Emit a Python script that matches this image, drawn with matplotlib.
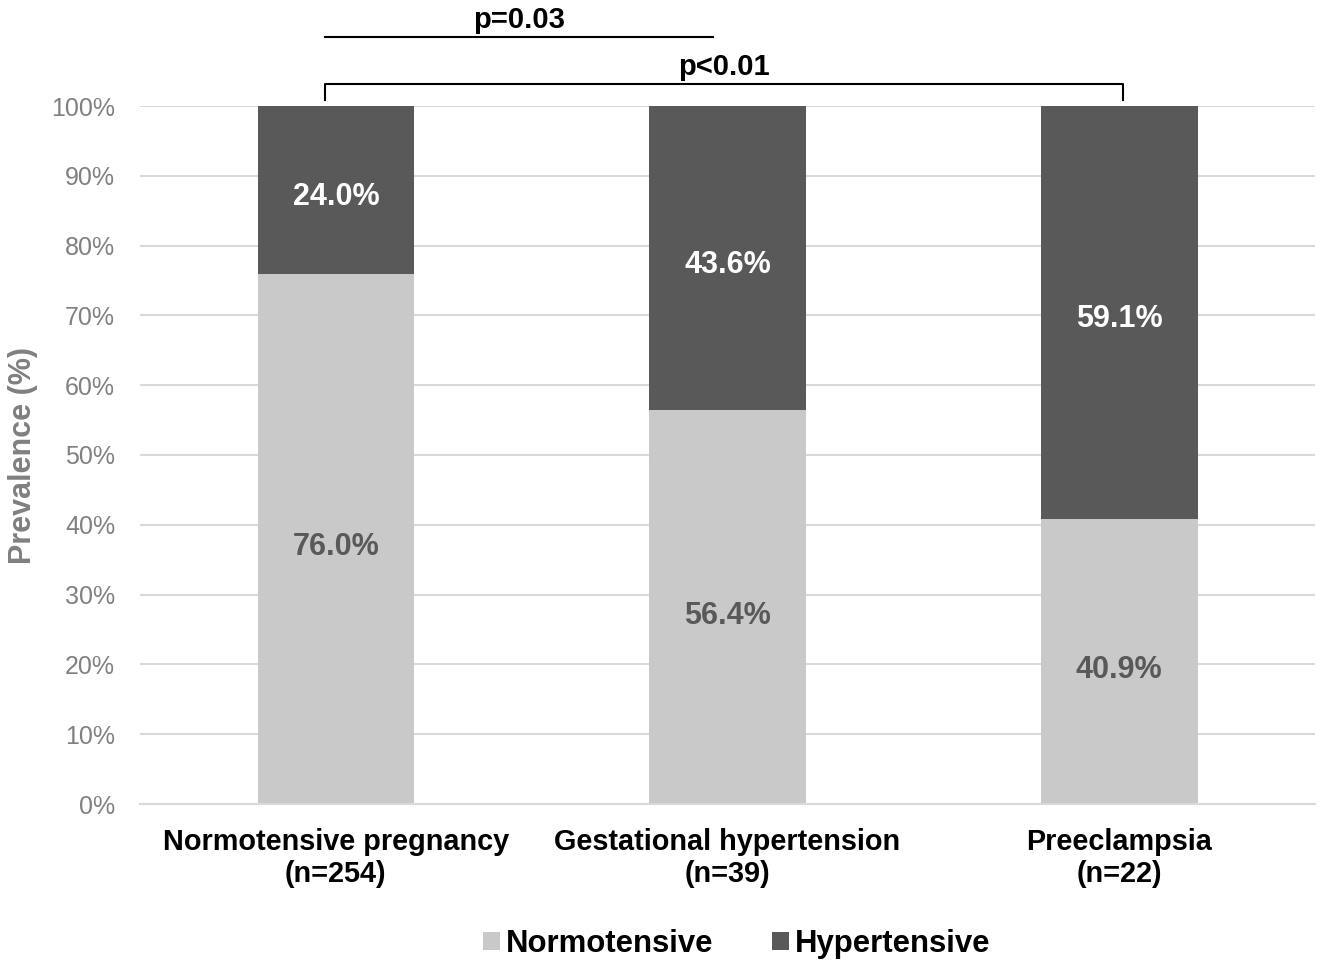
import matplotlib
matplotlib.use('Agg')
import matplotlib.pyplot as plt
from matplotlib.patches import Patch
from matplotlib.ticker import PercentFormatter
import numpy as np

plt.rcParams['font.family'] = ['Liberation Sans', 'DejaVu Sans']

# data
groups = ["Normotensive pregnancy\n(n=254)", "Gestational hypertension\n(n=39)", "Preeclampsia\n(n=22)"]
normotensive = [76.0, 56.4, 40.9]
hypertensive = [24.0, 43.6, 59.1]
series_names = ["Normotensive", "Hypertensive"]
yticks = list(range(0, 101, 10))

LIGHT = '#c9c9c9'
DARK = '#595959'
GRID = '#d9d9d9'
TICK_GRAY = '#808080'

fig = plt.figure(figsize=(13.25, 9.64), dpi=100)
ax = fig.add_axes([140 / 1325, 1 - 804 / 964, (1315 - 140) / 1325, (804 - 106) / 964])

x = np.arange(len(groups))
w = 0.4
ax.bar(x, normotensive, width=w, color=LIGHT, zorder=2)
ax.bar(x, hypertensive, width=w, bottom=normotensive, color=DARK, zorder=2)

# segment labels
for xi, n, h in zip(x, normotensive, hypertensive):
    ax.text(xi, n / 2 - 1.2, f"{n:.1f}%", ha='center', va='center',
            fontsize=22, fontweight='bold', color='#595959', zorder=3)
    ax.text(xi, n + h / 2 - 1, f"{h:.1f}%", ha='center', va='center',
            fontsize=22, fontweight='bold', color='white', zorder=3)

ax.set_xlim(-0.5, 2.5)
ax.set_ylim(0, 100)
ax.set_yticks(yticks)
ax.yaxis.set_major_formatter(PercentFormatter(decimals=0))
ax.grid(axis='y', color=GRID, linewidth=1.5, zorder=0)
ax.set_axisbelow(True)
for s in ['top', 'right', 'left']:
    ax.spines[s].set_visible(False)
ax.spines['bottom'].set_color(GRID)
ax.spines['bottom'].set_linewidth(1.5)
ax.tick_params(axis='both', length=0)
ax.tick_params(axis='y', labelsize=18, labelcolor=TICK_GRAY, pad=18)
ax.set_xticks(x)
ax.set_xticklabels(groups, fontsize=20.8, fontweight='bold', linespacing=1.2)
ax.tick_params(axis='x', pad=17)
ax.set_ylabel("Prevalence (%)", fontsize=22, fontweight='bold', color=TICK_GRAY, labelpad=9)

# significance annotations
ax.plot([-0.028, 0.962], [109.9, 109.9], color='black', lw=1.5, clip_on=False)
ax.text(0.467, 110.3, "p=0.03", ha='center', va='bottom', fontsize=21, fontweight='bold')
ax.plot([-0.028, -0.028, 2.01, 2.01], [100.9, 103.2, 103.2, 100.9],
        color='black', lw=1.5, clip_on=False)
ax.text(0.99, 103.6, "p<0.01", ha='center', va='bottom', fontsize=21, fontweight='bold')

handles = [Patch(facecolor=LIGHT, label=series_names[0]),
           Patch(facecolor=DARK, label=series_names[1])]
ax.legend(handles=handles, loc='center', bbox_to_anchor=(0.508, -0.2), ncol=2,
          frameon=False, prop={'size': 22.4, 'weight': 'bold'},
          handlelength=0.52, handleheight=0.52, handletextpad=0.2, columnspacing=1.9)

fig.savefig('out.png', dpi=100)
